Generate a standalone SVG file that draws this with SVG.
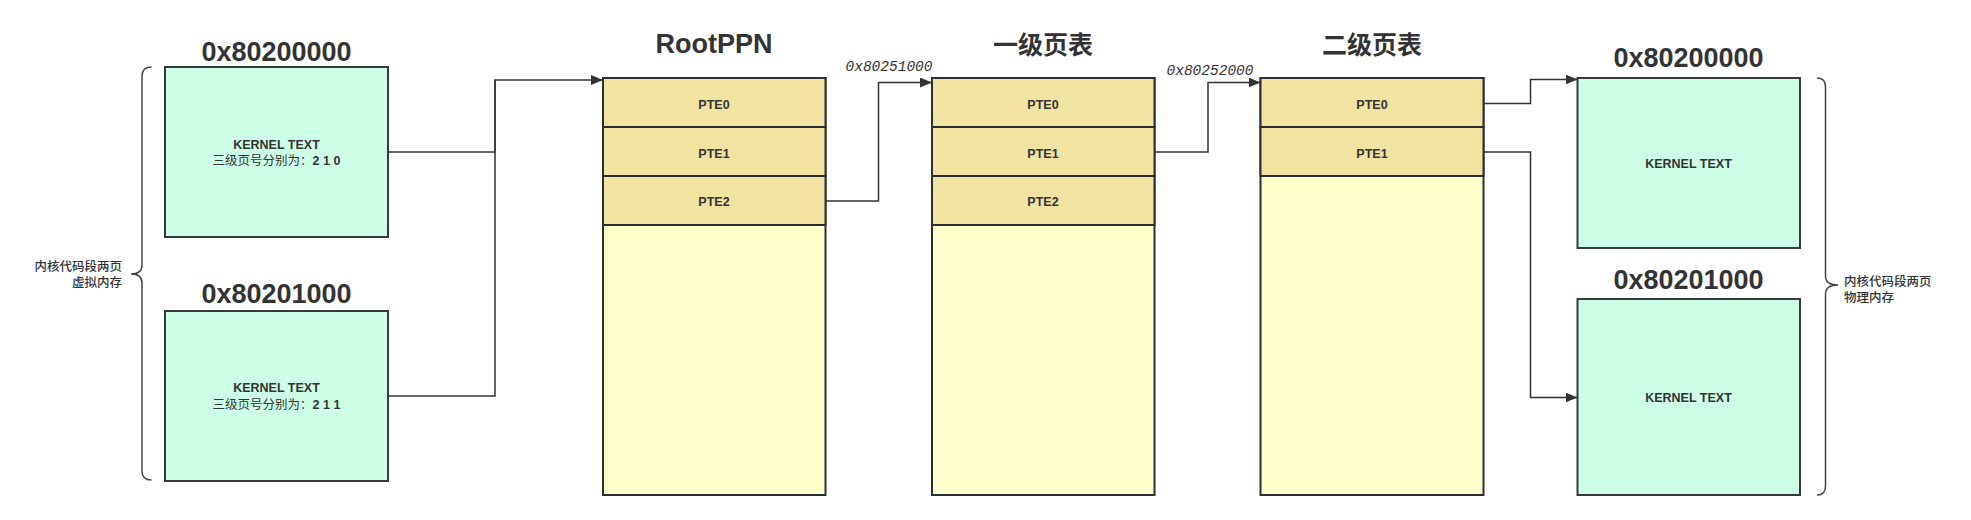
<svg xmlns="http://www.w3.org/2000/svg" width="1971" height="520" viewBox="0 0 1971 520">
<style>
.bg{fill:#ffffff}
.page{fill:#CCFFE6;stroke:#36393d;stroke-width:2}
.pte{fill:#F1E3A1;stroke:#2b2f33;stroke-width:2}
.body{fill:#FFFFCC;stroke:#2b2f33;stroke-width:2}
.t{font-family:"Liberation Sans","Noto Sans CJK SC",sans-serif;fill:#333333;text-anchor:middle}
.title{font-size:27px;font-weight:bold}
.ctitle{font-family:"Noto Sans CJK SC",sans-serif;font-size:25px;font-weight:bold}
.lbl{font-size:12.5px;font-weight:bold}
.cn{font-family:"Noto Sans CJK SC",sans-serif;font-size:12.5px;font-weight:500;fill:#333333}
.addr{font-family:"Liberation Mono",monospace;font-style:italic;font-size:14.5px;fill:#333333;text-anchor:middle}
.conn{fill:none;stroke:#333333;stroke-width:1.5}
.brace{fill:none;stroke:#444444;stroke-width:1.5}
</style>
<defs>
<marker id="arr" markerUnits="userSpaceOnUse" markerWidth="12" markerHeight="10" refX="12" refY="5" orient="auto">
<path d="M0,0 L12,5 L0,10 Z" fill="#333333"/>
</marker>
</defs>
<rect class="bg" x="0" y="0" width="1971" height="520"/>

<g id="va-brace">
<path class="brace" d="M151.5,67 Q142,67 142,76 L142,265 Q142,274 131,274 Q142,274 142,283 L142,471 Q142,480 151.5,480"/>
<text class="cn" text-anchor="end" x="122" y="271">内核代码段两页</text>
<text class="cn" text-anchor="end" x="122" y="287">虚拟内存</text>
</g>

<g id="va-page0">
<text class="t title" x="276.5" y="61">0x80200000</text>
<rect class="page" x="165" y="67" width="223" height="170"/>
<text class="t lbl" x="276.5" y="149">KERNEL TEXT</text>
<text class="t" x="276.5" y="165" font-size="12.5">三级页号分别为：<tspan font-weight="bold">2 1 0</tspan></text>
</g>

<g id="va-page1">
<text class="t title" x="276.5" y="303">0x80201000</text>
<rect class="page" x="165" y="311" width="223" height="170"/>
<text class="t lbl" x="276.5" y="392">KERNEL TEXT</text>
<text class="t" x="276.5" y="409" font-size="12.5">三级页号分别为：<tspan font-weight="bold">2 1 1</tspan></text>
</g>

<g id="root-table">
<text class="t title" x="714" y="53" font-size="26">RootPPN</text>
<rect class="body" x="603" y="78" width="222.5" height="417"/>
<rect class="pte" x="603" y="78" width="222.5" height="49"/>
<rect class="pte" x="603" y="127" width="222.5" height="49"/>
<rect class="pte" x="603" y="176" width="222.5" height="49"/>
<text class="t lbl" x="714" y="108.5">PTE0</text>
<text class="t lbl" x="714" y="157.5">PTE1</text>
<text class="t lbl" x="714" y="205.5">PTE2</text>
</g>

<g id="l1-table">
<text class="t ctitle" x="1043" y="54">一级页表</text>
<rect class="body" x="932" y="78" width="222.5" height="417"/>
<rect class="pte" x="932" y="78" width="222.5" height="49"/>
<rect class="pte" x="932" y="127" width="222.5" height="49"/>
<rect class="pte" x="932" y="176" width="222.5" height="49"/>
<text class="t lbl" x="1043" y="108.5">PTE0</text>
<text class="t lbl" x="1043" y="157.5">PTE1</text>
<text class="t lbl" x="1043" y="205.5">PTE2</text>
</g>

<g id="l2-table">
<text class="t ctitle" x="1372" y="54">二级页表</text>
<rect class="body" x="1260.5" y="78" width="223" height="417"/>
<rect class="pte" x="1260.5" y="78" width="223" height="49"/>
<rect class="pte" x="1260.5" y="127" width="223" height="49"/>
<text class="t lbl" x="1372" y="108.5">PTE0</text>
<text class="t lbl" x="1372" y="157.5">PTE1</text>
</g>

<g id="pa-page0">
<text class="t title" x="1688.5" y="67">0x80200000</text>
<rect class="page" x="1577.5" y="78" width="222.5" height="170"/>
<text class="t lbl" x="1688.5" y="168">KERNEL TEXT</text>
</g>

<g id="pa-page1">
<text class="t title" x="1688.5" y="289">0x80201000</text>
<rect class="page" x="1577.5" y="299" width="222.5" height="196"/>
<text class="t lbl" x="1688.5" y="402">KERNEL TEXT</text>
</g>

<g id="pa-brace">
<path class="brace" d="M1817,78 Q1825.5,78 1825.5,87 L1825.5,276 Q1825.5,285 1838,285 Q1825.5,285 1825.5,294 L1825.5,486 Q1825.5,495 1817,495"/>
<text class="cn" x="1844" y="286">内核代码段两页</text>
<text class="cn" x="1844" y="302">物理内存</text>
</g>

<g id="connectors">
<path class="conn" d="M388,152 L495,152 L495,80 L603,80" marker-end="url(#arr)"/>
<path class="conn" d="M388,396 L495,396 L495,80"/>
<path class="conn" d="M825.5,201 L878.5,201 L878.5,82.5 L932,82.5" marker-end="url(#arr)"/>
<path class="conn" d="M1154.5,152 L1208,152 L1208,82.5 L1260.5,82.5" marker-end="url(#arr)"/>
<path class="conn" d="M1483.5,103.5 L1530.5,103.5 L1530.5,79.5 L1577.5,79.5" marker-end="url(#arr)"/>
<path class="conn" d="M1483.5,152 L1530.5,152 L1530.5,397.5 L1577.5,397.5" marker-end="url(#arr)"/>
<text class="addr" x="889" y="71">0x80251000</text>
<text class="addr" x="1210" y="75">0x80252000</text>
</g>
</svg>
